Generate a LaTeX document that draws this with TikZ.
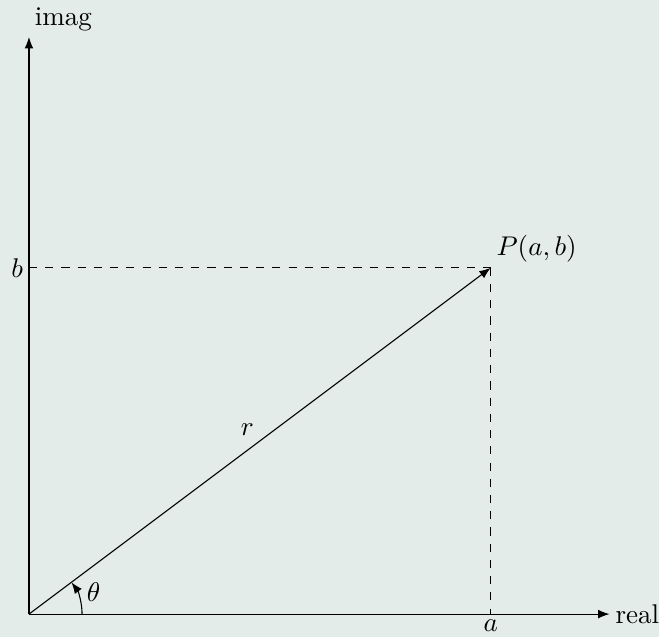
\documentclass[tikz,border=0pt]{standalone}
\usetikzlibrary{arrows.meta}
\definecolor{bg}{RGB}{227,236,232}
\begin{document}
\begin{tikzpicture}[scale=1.5,
  axis/.style={-{Latex[length=4.2pt,width=3.2pt]}},
  vec/.style={-{Latex[length=4.2pt,width=3.2pt]}},
  guide/.style={dashed},
  lbl/.style={inner sep=2pt}]
  \fill[bg] (-0.251,-0.199) rectangle (5.459,5.321);
  \useasboundingbox (-0.251,-0.199) rectangle (5.459,5.321);
  \coordinate (O) at (0,0);
  \coordinate (X) at (5.03,0);
  \coordinate (Y) at (0,5);
  \coordinate (P) at (4,3);
  \coordinate (A) at (4,0);
  \coordinate (B) at (0,3);
  \draw[axis] (O) -- (X) node[right, lbl] (real) {real};
  \draw[axis] (O) -- (Y) node[above right, lbl] (imag) {imag};
  \draw[guide] (B) -- (P);
  \draw[guide] (P) -- (A);
  \node[below, lbl] (alab) at (A) {$a$};
  \node[left, lbl] (blab) at (B) {$b$};
  \node[above right, lbl] (plab) at (P) {$P(a,b)$};
  \draw[vec] (O) -- (P) node[midway, above left, lbl] (rlab) {$r$};
  \draw[vec] (0.46,0) arc[start angle=0, end angle=36.87, radius=0.46];
  \node (th) at (0.56,0.19) {$\theta$};
\end{tikzpicture}
\end{document}
